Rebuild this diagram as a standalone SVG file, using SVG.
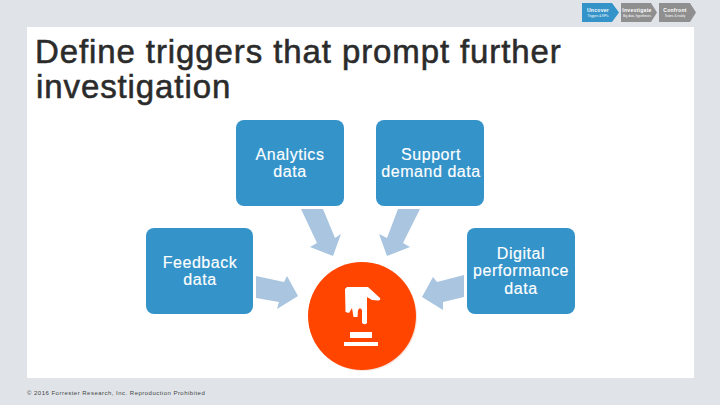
<svg xmlns="http://www.w3.org/2000/svg" width="720" height="405" viewBox="0 0 720 405">
<defs><style>
text{font-family:"Liberation Sans",Arial,sans-serif}
.box{fill:#3493c9}
.lbl{fill:#fff;font-size:16px;text-anchor:middle;letter-spacing:.55px;stroke:#fff;stroke-width:.15px}
.arr{fill:#a9c5e0}
.tab{font-size:5px;fill:#fff;text-anchor:middle;font-weight:bold;letter-spacing:.3px}
.sub{font-size:3px;fill:#fff;text-anchor:middle}
.t{font-size:33px;fill:#2b2b2b;letter-spacing:.9px;stroke:#2b2b2b;stroke-width:.55px}
</style></defs>
<rect width="720" height="405" fill="#e0e4e9"/>
<rect x="27" y="27" width="667" height="351" fill="#fff"/>
<g id="nav">
<path d="M582 3H612L619 12.500L612 22H582Z" fill="#3493c9"/>
<path d="M621 3H651L657 12.500L651 22H621Z" fill="#8f8f8f"/>
<path d="M659 3H690L696 12.500L690 22H659Z" fill="#8f8f8f"/>
<text class="tab" x="598" y="12">Uncover</text><text class="sub" x="598" y="17">Triggers &amp; KPIs</text>
<text class="tab" x="637" y="12">Investigate</text><text class="sub" x="637" y="17">Big data, hypotheses</text>
<text class="tab" x="675" y="12">Confront</text><text class="sub" x="675" y="17">Teams &amp; reality</text>
</g>
<g id="title"><text class="t" x="35" y="63">Define triggers that prompt further</text><text class="t" x="36" y="98">investigation</text></g>
<g id="connectors">
<path class="arr" d="M301 209H323L335 238L341 234L333 256L310 247L317 243Z"/>
<path class="arr" d="M420 209H398L387 238L379 234L387 256L410 247L403 243Z"/>
<path class="arr" d="M256 276L284 282L287 276L298 296L277 309L279 302L256 298Z"/>
<path class="arr" d="M464 275L437 282L433 277L422 297L443 310L443 302L464 297Z"/>
</g>
<g id="analytics"><rect class="box" x="236" y="120" width="108" height="86" rx="8"/><text class="lbl" x="290" y="160">Analytics</text><text class="lbl" x="290" y="177">data</text></g>
<g id="support"><rect class="box" x="376" y="120" width="108" height="86" rx="8"/><text class="lbl" x="431" y="160">Support</text><text class="lbl" x="431" y="177">demand data</text></g>
<g id="feedback"><rect class="box" x="146" y="228" width="107" height="86" rx="8"/><text class="lbl" x="200" y="268">Feedback</text><text class="lbl" x="200" y="285">data</text></g>
<g id="digital"><rect class="box" x="467" y="228" width="108" height="86" rx="8"/><text class="lbl" x="521" y="259">Digital</text><text class="lbl" x="521" y="276">performance</text><text class="lbl" x="521" y="294">data</text></g>
<g id="trigger">
<circle cx="363" cy="317" r="54" fill="#f5e3dc"/>
<circle cx="362" cy="316" r="54" fill="#ff4500"/>
<path fill="#fff" d="M347 287H368L380 298Q381 300 378 300.500L372 300L367 297V323Q365 325.500 362 323V310L360 308L358 310L357.500 317H353.500L352 308L349 313L345.500 312L345 289Z"/>
<rect x="350" y="332" width="22" height="6" fill="#fff"/>
<rect x="344" y="342" width="34" height="4" fill="#fff"/>
</g>
<text x="27" y="395" font-size="6" letter-spacing=".48" fill="#444">© 2016 Forrester Research, Inc. Reproduction Prohibited</text>
</svg>
